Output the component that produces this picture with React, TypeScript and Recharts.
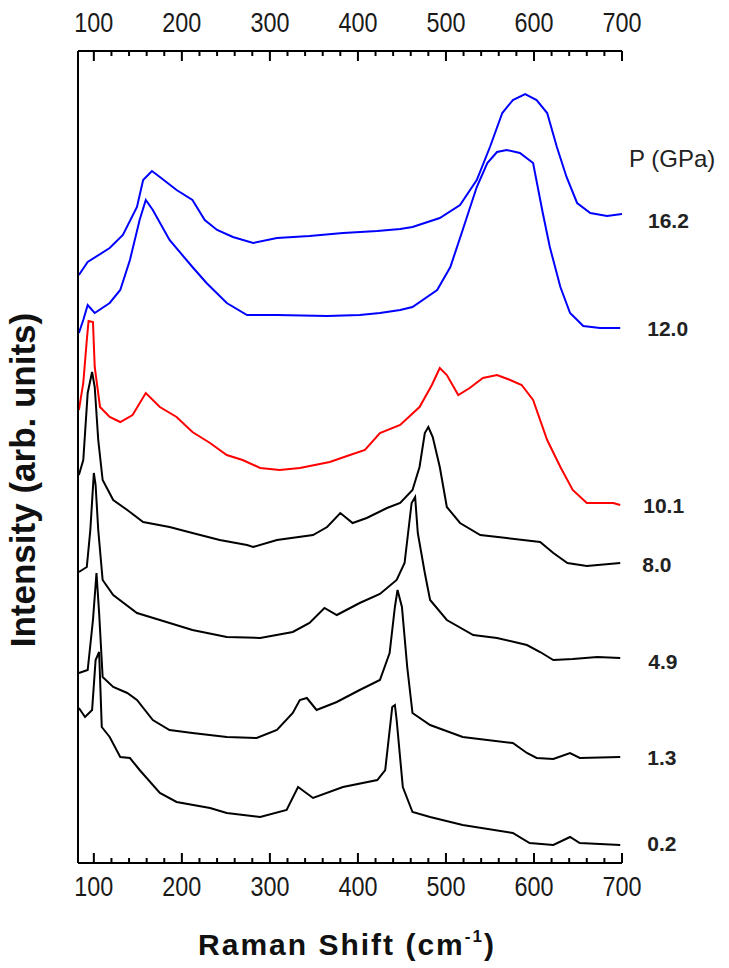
import { LineChart, Line, XAxis, YAxis, ReferenceLine } from 'recharts'

// Raman shift axis: minor ticks every 20 cm-1, labels every 100
const shiftTicks = [
  100, 120, 140, 160, 180, 200, 220, 240, 260, 280, 300, 320, 340, 360, 380, 400,
  420, 440, 460, 480, 500, 520, 540, 560, 580, 600, 620, 640, 660, 680, 700,
]
const shiftDomain = [82, 700]
const intensityDomain = [0, 812]

// spectra, offset vertically (arb. units)
const shift162 = [83, 93, 118, 133, 149, 156, 166, 175, 194, 212, 226, 240, 258, 281, 308, 345, 383, 422, 448, 462, 493, 516, 535, 550, 564, 576, 590, 603, 615, 626, 637, 649, 664, 683, 700]
const int162 = [588, 601, 615, 628, 656, 683, 692, 686, 673, 663, 643, 633, 626, 620, 625, 627, 630, 632, 634, 636, 645, 658, 683, 716, 750, 763, 769, 763, 750, 716, 686, 660, 650, 647, 649]

const shift120 = [83, 88, 93, 101, 118, 130, 141, 152, 159, 167, 186, 212, 228, 251, 274, 308, 365, 402, 425, 448, 462, 490, 505, 519, 535, 547, 558, 569, 584, 599, 610, 618, 630, 641, 656, 675, 698]
const int120 = [530, 543, 558, 550, 560, 573, 603, 643, 663, 653, 623, 596, 580, 560, 548, 548, 547, 548, 550, 553, 556, 573, 596, 633, 676, 700, 711, 713, 710, 700, 650, 616, 576, 550, 537, 535, 535]

const shift101 = [83, 88, 92, 94, 99, 101, 107, 118, 130, 144, 159, 175, 194, 212, 232, 251, 269, 289, 311, 334, 368, 391, 408, 425, 448, 470, 484, 493, 501, 514, 527, 542, 558, 573, 586, 599, 615, 630, 644, 660, 690, 698]
const int101 = [453, 480, 523, 542, 541, 496, 456, 446, 441, 448, 470, 456, 446, 431, 420, 408, 403, 395, 393, 395, 401, 408, 413, 430, 438, 456, 478, 495, 488, 468, 475, 485, 488, 483, 478, 463, 423, 396, 373, 360, 360, 358]

const shift80 = [83, 88, 93, 98, 101, 105, 110, 122, 138, 156, 186, 212, 243, 274, 281, 308, 349, 365, 380, 394, 410, 433, 448, 462, 470, 476, 480, 485, 493, 501, 516, 539, 569, 607, 622, 638, 660, 698]
const int80 = [388, 403, 470, 491, 476, 423, 383, 363, 353, 341, 336, 330, 323, 318, 316, 323, 328, 336, 350, 340, 345, 355, 360, 373, 396, 430, 436, 426, 396, 356, 340, 328, 325, 321, 310, 300, 297, 300]

const shift49 = [83, 92, 96, 100, 102, 105, 110, 122, 149, 175, 212, 251, 289, 326, 345, 362, 376, 402, 425, 444, 453, 457, 461, 465, 468, 476, 482, 501, 531, 558, 592, 607, 622, 644, 672, 698]
const int49 = [291, 296, 333, 390, 378, 333, 283, 268, 250, 243, 233, 226, 225, 231, 240, 255, 248, 260, 269, 283, 300, 330, 360, 366, 330, 290, 263, 243, 228, 225, 218, 211, 203, 204, 206, 205]

const shift13 = [83, 93, 99, 103, 106, 110, 122, 138, 149, 167, 186, 212, 251, 285, 308, 326, 334, 342, 353, 376, 402, 425, 436, 442, 445, 450, 456, 462, 482, 519, 576, 592, 603, 622, 641, 652, 698]
const int13 = [190, 193, 243, 290, 250, 186, 176, 170, 163, 143, 133, 130, 126, 125, 133, 150, 163, 165, 153, 161, 173, 183, 210, 256, 273, 256, 196, 150, 138, 126, 120, 110, 105, 104, 110, 105, 106]

const shift02 = [83, 90, 98, 102, 106, 109, 118, 130, 141, 152, 175, 194, 232, 251, 289, 319, 332, 349, 383, 422, 431, 439, 442, 444, 451, 462, 482, 519, 576, 595, 622, 641, 652, 698]
const int02 = [155, 146, 153, 203, 211, 136, 126, 106, 105, 93, 70, 61, 55, 50, 46, 53, 76, 65, 76, 83, 93, 156, 158, 143, 76, 51, 46, 38, 30, 20, 18, 26, 20, 18]

const pressures = ['16.2', '12.0', '10.1', '8.0', '4.9', '1.3', '0.2']

const zip = (xs: number[], ys: number[]) => xs.map((x, i) => ({ x, y: ys[i] }))

const series = [
  { p: pressures[0], color: '#0000ff', data: zip(shift162, int162), dx: 26, dy: 14, title: true },
  { p: pressures[1], color: '#0000ff', data: zip(shift120, int120), dx: 27, dy: 8 },
  { p: pressures[2], color: '#ff0000', data: zip(shift101, int101), dx: 23, dy: 8 },
  { p: pressures[3], color: '#000000', data: zip(shift80, int80), dx: 22, dy: 9 },
  { p: pressures[4], color: '#000000', data: zip(shift49, int49), dx: 28, dy: 11 },
  { p: pressures[5], color: '#000000', data: zip(shift13, int13), dx: 27, dy: 8 },
  { p: pressures[6], color: '#000000', data: zip(shift02, int02), dx: 27, dy: 6 },
]

const labelFont = "'Liberation Sans', Arial, sans-serif"
// inward tick lengths, in intensity units (the y scale is 1 unit per pixel)
const MAJOR = 10
const MINOR = 5

function BottomTick(props: any) {
  const { x, y, payload } = props
  if (payload.value % 100 !== 0) return <g />
  return (
    <text
      x={x}
      y={y + 33}
      textAnchor="middle"
      fontFamily={labelFont}
      fontSize={28}
      textLength={39}
      lengthAdjust="spacingAndGlyphs"
      fill="#1a1a1a"
    >
      {payload.value}
    </text>
  )
}

function TopTick(props: any) {
  const { x, y, payload } = props
  if (payload.value % 100 !== 0) return <g />
  return (
    <text
      x={x}
      y={y - 19}
      textAnchor="middle"
      fontFamily={labelFont}
      fontSize={28}
      textLength={39}
      lengthAdjust="spacingAndGlyphs"
      fill="#1a1a1a"
    >
      {payload.value}
    </text>
  )
}

function pressureLabel(s: (typeof series)[number]) {
  const last = s.data.length - 1
  return (props: any) => {
    if (props.index !== last) return null
    const { x, y } = props
    return (
      <g>
        {s.title && (
          <text x={x + 7} y={y - 47} fontFamily={labelFont} fontSize={24} fill="#222">
            P (GPa)
          </text>
        )}
        <text x={x + s.dx} y={y + s.dy} fontFamily={labelFont} fontSize={21} fontWeight="bold" fill="#222">
          {s.p}
        </text>
      </g>
    )
  }
}

const axisStroke = { stroke: '#000', strokeWidth: 2 }
const [yLow, yHigh] = intensityDomain

export default function App() {
  return (
    <div style={{ position: 'fixed', left: 0, top: 0, background: '#fff' }}>
      <LineChart width={729} height={968} margin={{ top: 0, right: 107, bottom: 45, left: 77 }}>
        <XAxis
          xAxisId="bottom"
          orientation="bottom"
          type="number"
          dataKey="x"
          domain={shiftDomain}
          allowDataOverflow
          ticks={shiftTicks}
          interval={0}
          height={60}
          tickSize={0}
          tickMargin={0}
          tickLine={false}
          axisLine={axisStroke}
          tick={<BottomTick />}
          label={{
            content: ({ viewBox }: any) => (
              <text
                x={viewBox.x + viewBox.width / 2 - 3}
                y={955}
                textAnchor="middle"
                fontFamily={labelFont}
                fontSize={30}
                fontWeight="bold"
                letterSpacing={2}
                fill="#111"
              >
                Raman Shift (cm
                <tspan dy={-13} fontSize={17}>-1</tspan>
                <tspan dy={13}>)</tspan>
              </text>
            ),
          }}
        />
        <XAxis
          xAxisId="top"
          orientation="top"
          type="number"
          dataKey="x"
          domain={shiftDomain}
          allowDataOverflow
          ticks={shiftTicks}
          interval={0}
          height={51}
          tickSize={0}
          tickMargin={0}
          tickLine={false}
          axisLine={axisStroke}
          tick={<TopTick />}
        />
        <YAxis
          type="number"
          domain={intensityDomain}
          allowDataOverflow
          width={1}
          tick={false}
          tickLine={false}
          axisLine={axisStroke}
          label={{
            content: ({ viewBox }: any) => {
              const cx = 35
              const cy = viewBox.y + viewBox.height / 2 + 23
              return (
                <text
                  x={cx}
                  y={cy}
                  transform={`rotate(-90, ${cx}, ${cy})`}
                  textAnchor="middle"
                  fontFamily={labelFont}
                  fontSize={35}
                  fontWeight="bold"
                  fill="#111"
                >
                  Intensity (arb. units)
                </text>
              )
            },
          }}
        />
        {/* inward tick marks on the bottom and top axes */}
        {shiftTicks.map((v) => {
          const len = v % 100 === 0 ? MAJOR : MINOR
          return [
            <ReferenceLine
              key={`b${v}`}
              xAxisId="bottom"
              segment={[{ x: v, y: yLow }, { x: v, y: yLow + len }]}
              stroke="#000"
              strokeWidth={2}
              ifOverflow="visible"
            />,
            <ReferenceLine
              key={`t${v}`}
              xAxisId="bottom"
              segment={[{ x: v, y: yHigh }, { x: v, y: yHigh - len }]}
              stroke="#000"
              strokeWidth={2}
              ifOverflow="visible"
            />,
          ]
        })}
        {series.map((s) => (
          <Line
            key={s.p}
            xAxisId="bottom"
            data={s.data}
            dataKey="y"
            type="linear"
            stroke={s.color}
            strokeWidth={2}
            dot={false}
            activeDot={false}
            isAnimationActive={false}
            label={pressureLabel(s)}
          />
        ))}
      </LineChart>
    </div>
  )
}
